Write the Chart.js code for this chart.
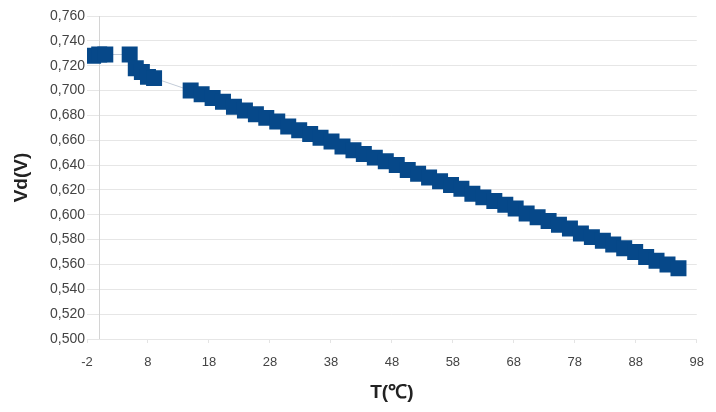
<!DOCTYPE html>
<html>
<head>
<meta charset="utf-8">
<script src="https://cdn.jsdelivr.net/npm/chart.js@4.4.1/dist/chart.umd.min.js"></script>
<style>
  body { margin: 0; background: #fff; }
</style>
</head>
<body>
<canvas id="myChart" width="716" height="412"></canvas>
<script>
// temperature (degC) and diode voltage (V)
const tempC = [-1, 0, 1, 5, 6, 7, 8, 9,
  15.0, 16.8, 18.6, 20.3, 22.1, 23.9, 25.7, 27.4, 29.2, 31.0, 32.8, 34.6,
  36.3, 38.1, 39.9, 41.7, 43.4, 45.2, 47.0, 48.8, 50.6, 52.3, 54.1, 55.9,
  57.7, 59.4, 61.2, 63.0, 64.8, 66.6, 68.3, 70.1, 71.9, 73.7, 75.4, 77.2,
  79.0, 80.8, 82.6, 84.3, 86.1, 87.9, 89.7, 91.4, 93.2, 95.0];
const vdV = [0.728, 0.729, 0.729, 0.729, 0.718, 0.715, 0.711, 0.710,
  0.700, 0.697, 0.694, 0.691, 0.687, 0.684, 0.681, 0.678, 0.675, 0.671,
  0.668, 0.665, 0.662, 0.659, 0.655, 0.652, 0.649, 0.646, 0.643, 0.640,
  0.636, 0.633, 0.630, 0.627, 0.624, 0.621, 0.617, 0.614, 0.611, 0.608,
  0.605, 0.601, 0.598, 0.595, 0.592, 0.589, 0.585, 0.582, 0.579, 0.576,
  0.573, 0.570, 0.566, 0.563, 0.560, 0.557];

const xTicks = [-2, 8, 18, 28, 38, 48, 58, 68, 78, 88, 98];
const yTicks = [0.50, 0.52, 0.54, 0.56, 0.58, 0.60, 0.62, 0.64, 0.66, 0.68, 0.70, 0.72, 0.74, 0.76];

const points = tempC.map((t, i) => ({ x: t, y: vdV[i] }));

// vertical axis line where T = 0
const zeroLine = {
  id: 'zeroLine',
  beforeDatasetsDraw(chart) {
    const { ctx, chartArea, scales } = chart;
    const px = Math.round(scales.x.getPixelForValue(0)) + 0.5;
    ctx.save();
    ctx.strokeStyle = '#d4d4d4';
    ctx.lineWidth = 1;
    ctx.beginPath();
    ctx.moveTo(px, chartArea.top);
    ctx.lineTo(px, chartArea.bottom);
    ctx.stroke();
    ctx.restore();
  }
};

const ctx = document.getElementById('myChart').getContext('2d');

new Chart(ctx, {
  type: 'scatter',
  data: {
    datasets: [{
      data: points,
      showLine: true,
      borderColor: '#c3ccd8',
      borderWidth: 1,
      backgroundColor: '#064889',
      pointStyle: 'rect',
      pointRadius: 11.3,
      pointBorderWidth: 0,
      pointHoverRadius: 11.3
    }]
  },
  options: {
    responsive: false,
    animation: false,
    layout: { padding: { top: 16, right: 6, left: 0, bottom: 0 } },
    plugins: {
      legend: { display: false },
      tooltip: { enabled: false }
    },
    scales: {
      x: {
        type: 'linear',
        min: -2,
        max: 98,
        afterBuildTicks: (scale) => { scale.ticks = xTicks.map(v => ({ value: v })); },
        afterFit: (scale) => { scale.height = 73; },
        grid: {
          drawOnChartArea: false,
          drawTicks: true,
          tickLength: 4,
          color: '#e4e4e4'
        },
        border: { display: false },
        ticks: {
          padding: 12,
          maxRotation: 0,
          autoSkip: false,
          color: '#444',
          font: { family: 'Liberation Sans', size: 13 },
          callback: (v) => String(v)
        },
        title: {
          display: true,
          text: 'T(℃)',
          color: '#222',
          font: { family: 'Liberation Sans', size: 19, weight: 'bold' },
          padding: { top: 0, bottom: 8 }
        }
      },
      y: {
        min: 0.5,
        max: 0.76,
        afterBuildTicks: (scale) => { scale.ticks = yTicks.map(v => ({ value: v })); },
        afterFit: (scale) => { scale.width = 87; },
        grid: {
          color: '#e6e6e6',
          drawTicks: false
        },
        border: { display: false },
        ticks: {
          padding: 2,
          color: '#444',
          font: { family: 'Liberation Sans', size: 14 },
          callback: (v) => v.toFixed(3).replace('.', ',')
        },
        title: {
          display: true,
          text: 'Vd(V)',
          color: '#222',
          font: { family: 'Liberation Sans', size: 19, weight: 'bold' },
          padding: { top: 10, bottom: 0 }
        }
      }
    }
  },
  plugins: [zeroLine]
});
</script>
</body>
</html>
